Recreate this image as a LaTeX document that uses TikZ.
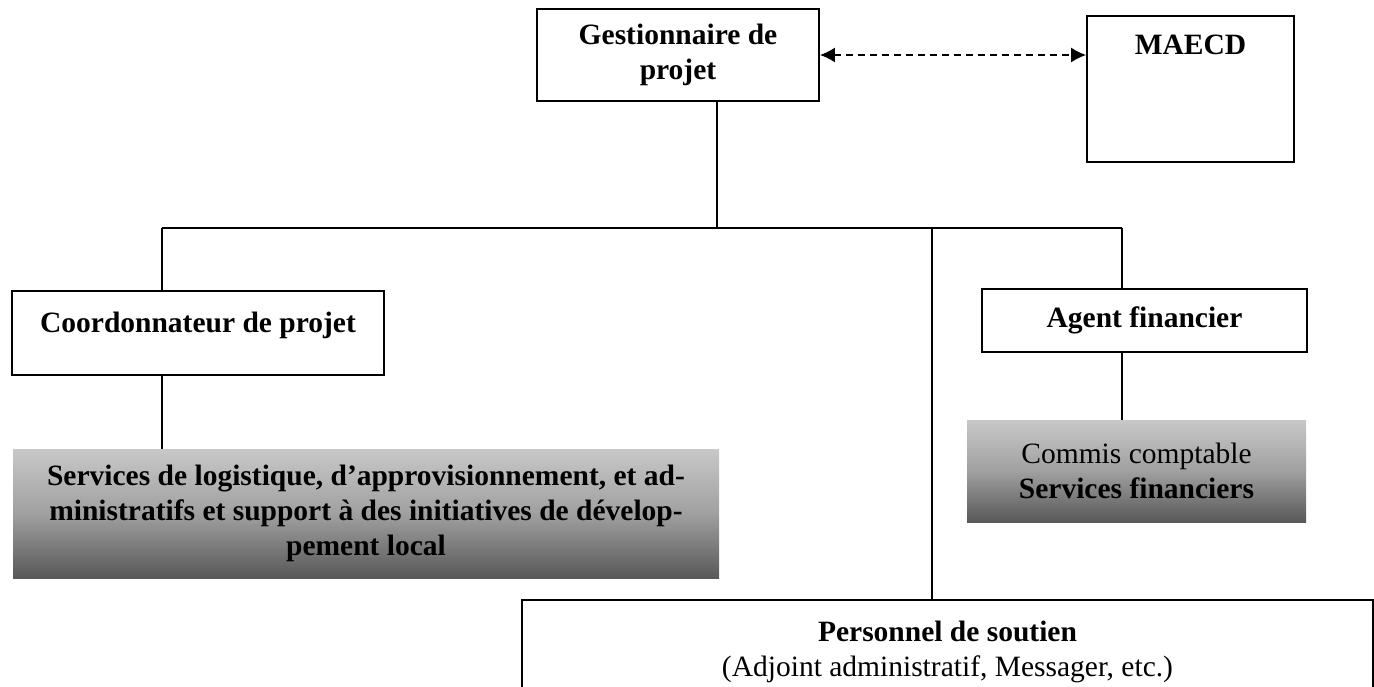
\documentclass[tikz,border=0pt]{standalone}
\usepackage{fontspec}
\setmainfont{Liberation Serif}
\usetikzlibrary{arrows.meta}
\begin{document}
\begin{tikzpicture}[x=1pt,y=-1pt,
  every node/.style={font=\fontsize{29.5}{35}\selectfont},
  box/.style={draw=black, line width=1.8pt, rectangle, inner sep=0pt, align=center},
  gradbox/.style={rectangle, inner sep=0pt, align=center, top color=grad1, bottom color=grad2, middle color=grad3},
  link/.style={line width=1.8pt},
  dlink/.style={line width=1.8pt, dash pattern=on 7pt off 5pt, {Latex[length=15pt,width=15pt]}-{Latex[length=15pt,width=15pt]}}
]
\definecolor{grad1}{RGB}{200,200,200}
\definecolor{grad3}{RGB}{160,160,160}
\definecolor{grad2}{RGB}{88,88,88}
\useasboundingbox (0,0) rectangle (1374,687);
\clip (0,0) rectangle (1374,687);

% boxes
\node[box, minimum width=282pt, minimum height=92pt] (G) at (678,55) {\bfseries Gestionnaire de\\\bfseries projet};
\node[box, minimum width=207pt, text height=39pt, text depth=107pt] (M) at (1190.5,89) {\bfseries MAECD};
\node[box, minimum width=372pt, text height=41pt, text depth=43pt] (C) at (198,333) {\bfseries Coordonnateur de projet};
\node[box, minimum width=325pt, minimum height=63pt] (A) at (1144.5,320.5) {\bfseries Agent financier};
\node[gradbox, minimum width=706pt, minimum height=129pt] (S1) at (366,513.5) {\bfseries Services de logistique, d’approvisionnement, et ad-\\\bfseries ministratifs et support à des initiatives de dévelop-\\\bfseries pement local};
\node[gradbox, minimum width=339pt, minimum height=102pt] (S2) at (1136.5,471) {Commis comptable\\\bfseries Services financiers};
\node[box, minimum width=851pt, minimum height=104pt] (P) at (947.5,652) {\bfseries Personnel de soutien\\(Adjoint administratif, Messager, etc.)};

% junction coordinates
\coordinate (jT) at (717,228);
\coordinate (jL) at (162,228);
\coordinate (jR) at (1122,228);
\coordinate (jP) at (932,228);

% connectors
\draw[link] (jT |- G.south) -- (jT);
\draw[link] (jL) -- (jR);
\draw[link] (jL) -- (jL |- C.north);
\draw[link] (jL |- C.south) -- (jL |- S1.north);
\draw[link] (jP) -- (jP |- P.north);
\draw[link] (jR) -- (jR |- A.north);
\draw[link] (jR |- A.south) -- (jR |- S2.north);
\draw[dlink] (G.east) -- (M.west |- G.east);
\end{tikzpicture}
\end{document}
